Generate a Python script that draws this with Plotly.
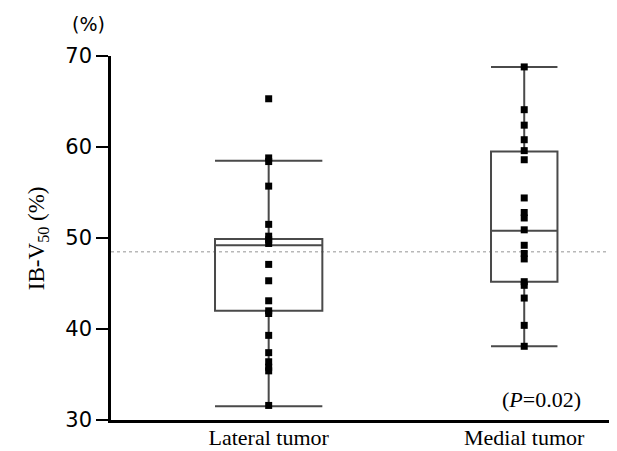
import plotly.graph_objects as go

categories = ["Lateral tumor", "Medial tumor"]
cat_pos = [0, 1]

lateral_points = [65.3, 58.8, 58.4, 55.7, 51.5, 50.2, 49.8, 49.4, 47.1, 45.3, 43.1,
                  42.0, 41.7, 39.3, 37.4, 36.4, 35.8, 35.4, 31.6]
medial_points = [68.8, 64.1, 62.4, 60.8, 59.6, 58.6, 54.4, 52.8, 52.2, 50.9, 49.2,
                 48.3, 47.7, 45.2, 44.8, 43.4, 40.4, 38.1]

lower_whisker = [31.5, 38.1]
q1_vals = [42.0, 45.2]
median_vals = [49.2, 50.8]
q3_vals = [49.9, 59.5]
upper_whisker = [58.5, 68.8]

reference_line = 48.5
y_ticks = [30, 40, 50, 60, 70]

fig = go.Figure()

box_widths = [0.42, 0.26]
for i in range(2):
    fig.add_trace(go.Box(
        x=[cat_pos[i]], q1=[q1_vals[i]], median=[median_vals[i]], q3=[q3_vals[i]],
        lowerfence=[lower_whisker[i]], upperfence=[upper_whisker[i]],
        width=box_widths[i], whiskerwidth=1, boxpoints=False,
        fillcolor="rgba(0,0,0,0)", line=dict(color="#4a4a4a", width=2),
        showlegend=False, hoverinfo="skip"))

for i, pts in enumerate([lateral_points, medial_points]):
    fig.add_trace(go.Scatter(
        x=[cat_pos[i]] * len(pts), y=pts, mode="markers",
        marker=dict(symbol="square", size=7, color="black"),
        showlegend=False))

fig.add_shape(type="line", xref="paper", x0=0, x1=1, yref="y",
              y0=reference_line, y1=reference_line,
              line=dict(color="#b8b8b8", width=1.5, dash="dot"), layer="below")

fig.add_annotation(text="(%)", xref="paper", yref="paper", x=-0.0435, y=1.088,
                   xanchor="center", yanchor="middle",
                   showarrow=False, font=dict(family="DejaVu Sans", size=19, color="black"))
fig.add_annotation(text="(<i>P</i>=0.02)", xref="x", yref="y", x=1.066, y=32.3,
                   xanchor="center", yanchor="middle",
                   showarrow=False, font=dict(family="Liberation Serif", size=22, color="black"))
fig.add_annotation(text="IB-V<sub>50</sub> (%)", xref="paper", yref="paper", x=-0.144, y=0.5,
                   xanchor="center", yanchor="middle",
                   textangle=-90, showarrow=False,
                   font=dict(family="Liberation Serif", size=23, color="black"))

fig.update_xaxes(range=[-0.617, 1.363], tickvals=cat_pos, ticktext=categories,
                 showline=True, linecolor="black", linewidth=2.5, showgrid=False,
                 zeroline=False, ticks="", automargin=False, ticklabelstandoff=-4,
                 tickfont=dict(family="Liberation Serif", size=22, color="black"))
fig.update_yaxes(range=[30, 70], tickvals=y_ticks, showline=True, linecolor="black",
                 linewidth=2.5, showgrid=False, zeroline=False, ticks="outside",
                 ticklen=12, tickwidth=2, tickcolor="black", automargin=False,
                 tickfont=dict(family="DejaVu Sans", size=21, color="black"))

fig.update_layout(width=609, height=443, margin=dict(l=103, r=0, t=48, b=31),
                  plot_bgcolor="white", paper_bgcolor="white")

fig.write_html("out.html")
